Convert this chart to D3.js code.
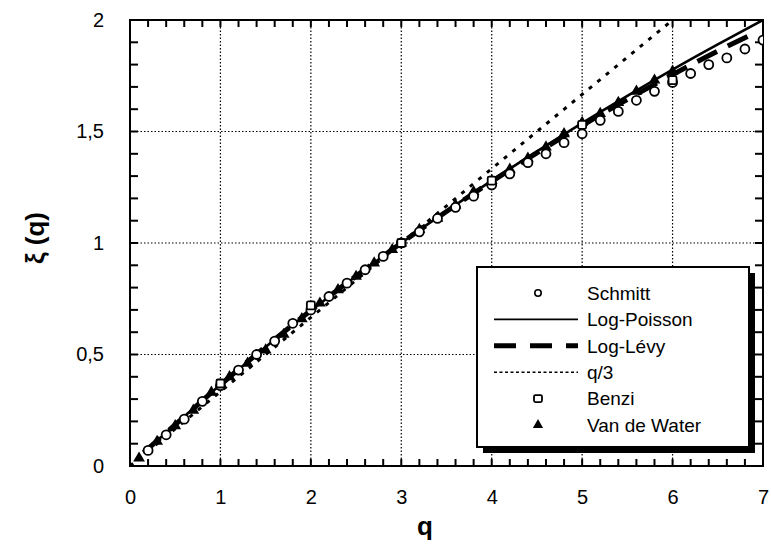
<!DOCTYPE html>
<html><head><meta charset="utf-8">
<script src="https://cdn.jsdelivr.net/npm/d3@7"></script>
<style>
body{margin:0;background:#fff;}
text{font-family:"Liberation Sans",Arial,Helvetica,sans-serif;fill:#000;}
</style></head>
<body>
<svg id="chart" width="771" height="546"></svg>
<script>
// ---- data ----
const xTickLabels = ["0","1","2","3","4","5","6","7"];
const yTickValues = [0, 0.5, 1, 1.5, 2];
const yTickLabels = ["0","0,5","1","1,5","2"];

const schmittQ = [0.2,0.4,0.6,0.8,1.0,1.2,1.4,1.6,1.8,2.0,2.2,2.4,2.6,2.8,3.0,3.2,3.4,3.6,3.8,4.0,4.2,4.4,4.6,4.8,5.0,5.2,5.4,5.6,5.8,6.0,6.2,6.4,6.6,6.8,7.0];
const schmittZ = [0.07,0.14,0.21,0.29,0.36,0.43,0.50,0.56,0.64,0.70,0.76,0.82,0.88,0.94,1.00,1.05,1.11,1.16,1.21,1.26,1.31,1.36,1.40,1.45,1.49,1.55,1.59,1.64,1.68,1.72,1.76,1.80,1.83,1.87,1.91];

const poissonQ = [0.15,0.5,1,1.5,2,2.5,3,3.5,4,4.5,5,5.5,6,6.5,7];
const poissonZ = [0.06,0.186,0.364,0.534,0.696,0.851,1.0,1.143,1.280,1.411,1.538,1.660,1.778,1.891,2.0];

const levyQ = [0.15,0.5,1,1.5,2,2.5,3,3.5,4,4.5,5,5.5,6,6.5,6.85];
const levyZ = [0.06,0.185,0.364,0.535,0.697,0.852,1.0,1.141,1.276,1.404,1.527,1.644,1.755,1.861,1.93];

const linQ = [0, 7];
const linZ = [0, 2.333];

const benziQ = [1, 2, 3, 4, 5, 6];
const benziZ = [0.37, 0.72, 1.0, 1.28, 1.53, 1.73];

const vdwQ = [0.1,0.3,0.5,0.7,0.9,1.1,1.3,1.5,1.7,1.9,2.1,2.3,2.5,2.7,2.9,3.0,3.2,3.4,3.6,3.8,4.0,4.2,4.4,4.6,4.8,5.0,5.2,5.4,5.6,5.8,6.0];
const vdwZ = [0.035,0.11,0.18,0.25,0.33,0.40,0.46,0.52,0.59,0.66,0.73,0.79,0.85,0.91,0.97,1.00,1.06,1.11,1.17,1.23,1.28,1.33,1.38,1.43,1.49,1.54,1.58,1.63,1.68,1.73,1.77];

const legendLabels = ["Schmitt","Log-Poisson","Log-Lévy","q/3","Benzi","Van de Water"];

// ---- layout ----
const L = 130, R = 763, T = 20, B = 466;
const svg = d3.select("#chart");
const x = d3.scaleLinear().domain([0, 7]).range([L, R]);
const y = d3.scaleLinear().domain([0, 2]).range([B, T]);

svg.append("clipPath").attr("id","clip").append("rect")
  .attr("x", L).attr("y", T).attr("width", R - L).attr("height", B - T);

// grid
const grid = svg.append("g");
grid.selectAll("line.gx").data([1,2,3,4,5,6]).enter().append("line").attr("class","gx")
  .attr("x1", d => x(d)).attr("x2", d => x(d)).attr("y1", T).attr("y2", B)
  .attr("stroke", "#000").attr("stroke-width", 1.2).attr("stroke-dasharray", "1.5,2");
grid.selectAll("line.gy").data([0.5,1,1.5]).enter().append("line").attr("class","gy")
  .attr("y1", d => y(d)).attr("y2", d => y(d)).attr("x1", L).attr("x2", R)
  .attr("stroke", "#000").attr("stroke-width", 1.2).attr("stroke-dasharray", "1.5,2");

// minor ticks (inward), positioned with the scales
const xMinor = d3.range(0, 36).map(i => i * 0.2);
const yMinor = d3.range(0, 21).map(i => i * 0.1);
const tk = svg.append("g").attr("stroke","#000").attr("stroke-width",2);
tk.selectAll("line.tb").data(xMinor).enter().append("line").attr("class","tb")
  .attr("x1", d => x(d)).attr("x2", d => x(d)).attr("y1", B).attr("y2", B - 7);
tk.selectAll("line.tt").data(xMinor).enter().append("line").attr("class","tt")
  .attr("x1", d => x(d)).attr("x2", d => x(d)).attr("y1", T).attr("y2", T + 7);
tk.selectAll("line.tl").data(yMinor).enter().append("line").attr("class","tl")
  .attr("y1", d => y(d)).attr("y2", d => y(d)).attr("x1", L).attr("x2", L + 8);
tk.selectAll("line.tr").data(yMinor).enter().append("line").attr("class","tr")
  .attr("y1", d => y(d)).attr("y2", d => y(d)).attr("x1", R).attr("x2", R - 8);

// tick labels
const xl = svg.append("g").attr("transform",`translate(0,${B})`)
  .call(d3.axisBottom(x).tickValues(d3.range(0,8)).tickSize(0).tickPadding(24).tickFormat((d,i)=>xTickLabels[i]));
xl.select(".domain").remove();
xl.selectAll("text").attr("font-size",20).attr("font-family","Liberation Sans, Arial, sans-serif");
const yl = svg.append("g").attr("transform",`translate(${L},0)`)
  .call(d3.axisLeft(y).tickValues(yTickValues).tickSize(0).tickPadding(26).tickFormat((d,i)=>yTickLabels[i]));
yl.select(".domain").remove();
yl.selectAll("text").attr("font-size",20).attr("font-family","Liberation Sans, Arial, sans-serif");

// frame
svg.append("rect").attr("x",L).attr("y",T).attr("width",R-L).attr("height",B-T)
  .attr("fill","none").attr("stroke","#000").attr("stroke-width",2);

// axis titles
svg.append("text").attr("x",425).attr("y",535).attr("text-anchor","middle")
  .attr("font-size",26).attr("font-weight","bold").text("q");
svg.append("text").attr("transform","translate(44,238) rotate(-90)").attr("text-anchor","middle")
  .attr("font-size",26).attr("font-weight","bold").text("ξ (q)");

// plot series
const plot = svg.append("g").attr("clip-path","url(#clip)");
const line = d3.line().x(d => x(d[0])).y(d => y(d[1])).curve(d3.curveMonotoneX);

plot.append("path").datum(linQ.map((q,i)=>[q,linZ[i]])).attr("d", d3.line().x(d=>x(d[0])).y(d=>y(d[1])))
  .attr("fill","none").attr("stroke","#000").attr("stroke-width",3).attr("stroke-dasharray","4,7");
plot.append("path").datum(levyQ.map((q,i)=>[q,levyZ[i]])).attr("d", line)
  .attr("fill","none").attr("stroke","#000").attr("stroke-width",5).attr("stroke-dasharray","22,12");
plot.append("path").datum(poissonQ.map((q,i)=>[q,poissonZ[i]])).attr("d", line)
  .attr("fill","none").attr("stroke","#000").attr("stroke-width",2.6);

// Van de Water triangles
const tri = d3.symbol().type(d3.symbolTriangle).size(60);
plot.selectAll("path.vdw").data(vdwQ.map((q,i)=>[q,vdwZ[i]])).enter().append("path").attr("class","vdw")
  .attr("d", tri).attr("transform", d=>`translate(${x(d[0])},${y(d[1])})`).attr("fill","#000");

// Schmitt circles
plot.selectAll("circle.sch").data(schmittQ.map((q,i)=>[q,schmittZ[i]])).enter().append("circle").attr("class","sch")
  .attr("cx", d=>x(d[0])).attr("cy", d=>y(d[1])).attr("r", 4.5)
  .attr("fill","#fff").attr("stroke","#000").attr("stroke-width",1.8);

// Benzi squares
plot.selectAll("rect.bz").data(benziQ.map((q,i)=>[q,benziZ[i]])).enter().append("rect").attr("class","bz")
  .attr("x", d=>x(d[0])-4).attr("y", d=>y(d[1])-4).attr("width",8).attr("height",8).attr("rx",1.5)
  .attr("fill","#fff").attr("stroke","#000").attr("stroke-width",1.8);

// legend
const lg = svg.append("g");
const lx = 477, ly = 267, lw = 272, lh = 180;
lg.append("rect").attr("x",lx+6).attr("y",ly+6).attr("width",lw).attr("height",lh).attr("fill","#000");
lg.append("rect").attr("x",lx).attr("y",ly).attr("width",lw).attr("height",lh).attr("fill","#fff")
  .attr("stroke","#000").attr("stroke-width",2);
const rowY = i => 293 + i * 26.4;
const mx = 538, l1 = 494, l2 = 578, tx = 587;
lg.selectAll("text.lt").data(legendLabels).enter().append("text").attr("class","lt")
  .attr("x", tx).attr("y", (d,i)=>rowY(i)).attr("dy","0.36em").attr("font-size",19).text(d=>d);
lg.append("circle").attr("cx",mx).attr("cy",rowY(0)).attr("r",3.2).attr("fill","#fff").attr("stroke","#000").attr("stroke-width",1.6);
lg.append("line").attr("x1",l1).attr("x2",l2).attr("y1",rowY(1)).attr("y2",rowY(1)).attr("stroke","#000").attr("stroke-width",1.8);
lg.append("line").attr("x1",l1).attr("x2",l2).attr("y1",rowY(2)).attr("y2",rowY(2)).attr("stroke","#000").attr("stroke-width",5).attr("stroke-dasharray","22,14");
lg.append("line").attr("x1",l1).attr("x2",l2).attr("y1",rowY(3)).attr("y2",rowY(3)).attr("stroke","#000").attr("stroke-width",1.5).attr("stroke-dasharray","3,2.5");
lg.append("rect").attr("x",mx-4).attr("y",rowY(4)-3.5).attr("width",8).attr("height",7).attr("rx",1.5).attr("fill","#fff").attr("stroke","#000").attr("stroke-width",1.8);
lg.append("path").attr("d", d3.symbol().type(d3.symbolTriangle).size(45)).attr("transform",`translate(${mx},${rowY(5)})`).attr("fill","#000");
</script>
</body></html>
